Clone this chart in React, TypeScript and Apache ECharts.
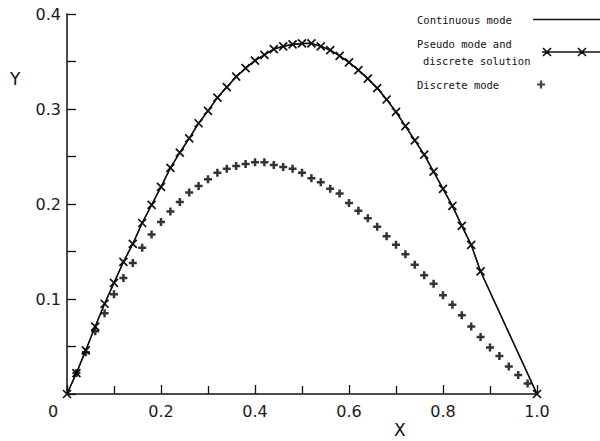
import React, { useEffect, useRef } from "react";
import * as echarts from "echarts";

// Pseudo mode and discrete solution (x markers), also traced by the continuous mode curve
const pseudoX = [
  0, 0.02, 0.04, 0.06, 0.08, 0.1, 0.12, 0.14, 0.16, 0.18, 0.2, 0.22, 0.24, 0.26, 0.28, 0.3,
  0.32, 0.34, 0.36, 0.38, 0.4, 0.42, 0.44, 0.46, 0.48, 0.5, 0.52, 0.54, 0.56, 0.58, 0.6,
  0.62, 0.64, 0.66, 0.68, 0.7, 0.72, 0.74, 0.76, 0.78, 0.8, 0.82, 0.84, 0.86, 0.88, 1.0,
];
const pseudoY = [
  0, 0.022, 0.046, 0.071, 0.095, 0.117, 0.139, 0.158, 0.18, 0.199, 0.218, 0.238, 0.254, 0.269,
  0.285, 0.298, 0.312, 0.323, 0.334, 0.343, 0.351, 0.357, 0.363, 0.366, 0.368, 0.369, 0.369,
  0.366, 0.362, 0.356, 0.349, 0.341, 0.332, 0.322, 0.31, 0.297, 0.282, 0.267, 0.252, 0.234,
  0.216, 0.198, 0.177, 0.157, 0.129, 0,
];
// Continuous mode curve
const continuousX = pseudoX;
const continuousY = pseudoY;

// Discrete mode (+ markers)
const discreteX = [
  0.02, 0.04, 0.06, 0.08, 0.1, 0.12, 0.14, 0.16, 0.18, 0.2, 0.22, 0.24, 0.26, 0.28, 0.3,
  0.32, 0.34, 0.36, 0.38, 0.4, 0.42, 0.44, 0.46, 0.48, 0.5, 0.52, 0.54, 0.56, 0.58, 0.6,
  0.62, 0.64, 0.66, 0.68, 0.7, 0.72, 0.74, 0.76, 0.78, 0.8, 0.82, 0.84, 0.86, 0.88, 0.9,
  0.92, 0.94, 0.96, 0.98,
];
const discreteY = [
  0.022, 0.044, 0.066, 0.085, 0.105, 0.122, 0.138, 0.154, 0.168, 0.181, 0.192, 0.202, 0.212,
  0.219, 0.226, 0.233, 0.237, 0.24, 0.242, 0.244, 0.244, 0.241, 0.239, 0.237, 0.233, 0.227,
  0.223, 0.216, 0.211, 0.201, 0.193, 0.185, 0.176, 0.166, 0.157, 0.147, 0.136, 0.125, 0.116,
  0.104, 0.094, 0.083, 0.071, 0.06, 0.049, 0.04, 0.029, 0.02, 0.011,
];

const seriesNames = ["Continuous mode", "Pseudo mode and\ndiscrete solution", "Discrete mode"];
const xTickValues = [0, 0.2, 0.4, 0.6, 0.8, 1.0];
const yTickValues = [0.1, 0.2, 0.3, 0.4];

const X_SYMBOL = "path://M0,0L10,10M10,0L0,10";
const PLUS_SYMBOL = "path://M5,0L5,10M0,5L10,5";
// legend icons (boxes 67 x 10)
const ICON_LINE = "path://M0,0M0,10M0,5L67,5";
const ICON_PSEUDO = "path://M0,0M0,10M9,5L67,5M10,1L18,9M18,1L10,9M45,1L53,9M53,1L45,9";
const ICON_PLUS = "path://M0,0M0,10M67,5M4,5L12,5M8,1L8,9";

const zip = (xs: number[], ys: number[]) => xs.map((x, i) => [x, ys[i]]);

export default function App() {
  const ref = useRef<HTMLDivElement>(null);
  useEffect(() => {
    if (!ref.current) return;
    const chart = echarts.init(ref.current, null, { renderer: "svg" });
    const axisFont = { fontFamily: "DejaVu Sans", fontSize: 16, color: "#1a1a1a" };
    const legendFont = { fontFamily: "DejaVu Sans Mono", fontSize: 10.5, color: "#111" };
    chart.setOption({
      animation: false,
      backgroundColor: "#ffffff",
      grid: { left: 67, right: 63, top: 14, bottom: 47, containLabel: false },
      xAxis: {
        type: "value",
        min: 0,
        max: 1,
        interval: 0.2,
        axisLine: { show: true, lineStyle: { color: "#111", width: 1.5 } },
        axisTick: { show: true, inside: true, length: 9, lineStyle: { color: "#111", width: 1.3 } },
        minorTick: { show: true, splitNumber: 2, length: 8, lineStyle: { color: "#111", width: 1.3 } },
        splitLine: { show: false },
        axisLabel: {
          margin: 9,
          ...axisFont,
          formatter: (v: number) => {
            if (!xTickValues.some((t) => Math.abs(t - v) < 1e-9)) return "";
            return v === 0 ? "{z|0}" : v.toFixed(1);
          },
          rich: { z: { ...axisFont, padding: [0, 28, 0, 0] } },
        },
      },
      yAxis: {
        type: "value",
        min: 0,
        max: 0.4,
        interval: 0.1,
        axisLine: { show: true, lineStyle: { color: "#111", width: 1.5 } },
        axisTick: { show: true, inside: true, length: 9, lineStyle: { color: "#111", width: 1.3 } },
        minorTick: { show: true, splitNumber: 2, length: 9, lineStyle: { color: "#111", width: 1.3 } },
        splitLine: { show: false },
        axisLabel: {
          margin: 6,
          ...axisFont,
          showMinLabel: false,
          formatter: (v: number) =>
            yTickValues.some((t) => Math.abs(t - v) < 1e-9) ? v.toFixed(1) : "",
        },
      },
      legend: {
        orient: "vertical",
        left: 412,
        top: 7,
        align: "right",
        itemWidth: 67,
        itemHeight: 10,
        itemGap: 11,
        selectedMode: false,
        symbolKeepAspect: true,
        data: [
          { name: seriesNames[0], icon: ICON_LINE, itemStyle: { color: "none", borderColor: "#111", borderWidth: 1.5 } },
          { name: seriesNames[1], icon: ICON_PSEUDO, itemStyle: { color: "none", borderColor: "#111", borderWidth: 1.6 } },
          { name: seriesNames[2], icon: ICON_PLUS, itemStyle: { color: "none", borderColor: "#111", borderWidth: 2.2 } },
        ],
        textStyle: {
          ...legendFont,
          rich: {
            t: { ...legendFont, width: 111, align: "left", lineHeight: 17 },
            u: { ...legendFont, width: 105, align: "left", lineHeight: 17, padding: [0, 0, 0, 6] },
          },
        },
        formatter: (name: string) =>
          name
            .split("\n")
            .map((s, i) => (i === 0 ? `{t|${s}}` : `{u|${s}}`))
            .join("\n"),
      },
      graphic: [
        { type: "text", left: 10, top: 70, style: { text: "Y", fontFamily: "DejaVu Sans", fontSize: 17, fill: "#111" } },
        { type: "text", left: 394, top: 421, style: { text: "X", fontFamily: "DejaVu Sans", fontSize: 17, fill: "#111" } },
      ],
      series: [
        {
          name: seriesNames[0],
          type: "line",
          data: zip(continuousX, continuousY),
          symbol: "none",
          lineStyle: { color: "#111", width: 1.5 },
          itemStyle: { color: "#111" },
          z: 2,
        },
        {
          name: seriesNames[1],
          type: "line",
          data: zip(pseudoX, pseudoY),
          symbol: X_SYMBOL,
          symbolSize: 8,
          showAllSymbol: true,
          lineStyle: { color: "#111", width: 1.2 },
          itemStyle: { color: "#111", borderColor: "#111", borderWidth: 1.7 },
          z: 3,
        },
        {
          name: seriesNames[2],
          type: "scatter",
          data: zip(discreteX, discreteY),
          symbol: PLUS_SYMBOL,
          symbolSize: 8,
          itemStyle: { color: "#000", borderColor: "#000", borderWidth: 2.5 },
          z: 4,
        },
      ],
    });
    return () => chart.dispose();
  }, []);
  return (
    <div
      ref={ref}
      style={{ position: "fixed", left: 0, top: 0, width: 600, height: 441, background: "#fff" }}
    />
  );
}
